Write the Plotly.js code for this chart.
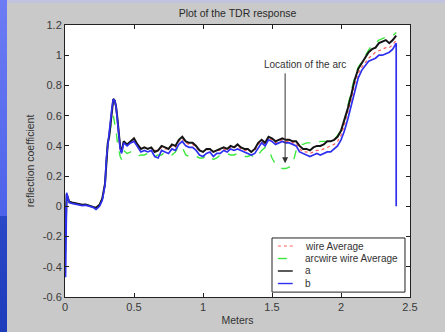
<!DOCTYPE html>
<html>
<head>
<meta charset="utf-8">
<script src="https://cdn.plot.ly/plotly-3.0.1.min.js"></script>
<style>
  html, body { margin: 0; padding: 0; }
  body { width: 445px; height: 332px; position: relative; overflow: hidden; background: #c9c9c9; }
  #bandTop { position: absolute; left: 0; top: 0; width: 445px; height: 3px; background: #c2c3df; }
  #stripHi { position: absolute; left: 0; top: 0; width: 7px; height: 216px; background: linear-gradient(#6c7cf4, #4c62ea); }
  #stripLo { position: absolute; left: 0; top: 216px; width: 7px; height: 116px; background: linear-gradient(#2848c8, #1c3cbc); }
  #chart { position: absolute; left: 7px; top: 0; width: 438px; height: 332px; }
</style>
</head>
<body>
<div id="bandTop"></div>
<div id="stripHi"></div>
<div id="stripLo"></div>
<div id="chart"></div>
<script>
// Distance along the line (m). The last entry repeats 2.4 so trace b can fall back to zero.
const meters = [
  0, 0.004, 0.008, 0.012, 0.02, 0.03, 0.05, 0.075, 0.1, 0.125, 0.15, 0.175, 0.2, 0.225, 0.25, 0.27,
  0.29, 0.30, 0.31, 0.32, 0.33, 0.34, 0.35, 0.36, 0.37, 0.38, 0.39, 0.40, 0.41, 0.425, 0.45, 0.475,
  0.5, 0.525, 0.55, 0.575, 0.6, 0.625, 0.65, 0.675, 0.7, 0.725, 0.75, 0.775, 0.8, 0.825, 0.85, 0.875, 0.9, 0.925, 0.95, 0.975,
  1.0, 1.025, 1.05, 1.075, 1.1, 1.125, 1.15, 1.175, 1.2, 1.225, 1.25, 1.275, 1.3, 1.325, 1.35, 1.375, 1.4, 1.425, 1.45, 1.475,
  1.5, 1.525, 1.55, 1.575, 1.6, 1.625, 1.65, 1.675, 1.7, 1.725, 1.75, 1.775, 1.8, 1.825, 1.85, 1.875, 1.9, 1.925, 1.95, 1.975,
  2.0, 2.025, 2.05, 2.075, 2.1, 2.125, 2.15, 2.175, 2.2, 2.225, 2.25, 2.275, 2.3, 2.325, 2.35, 2.375, 2.4,
  2.4
];

// wire Average
const wireAverage = [
  0, -0.25, -0.05, 0.08, 0.06, 0.03, 0.025, 0.02, 0.015, 0.01, 0.012, 0.005, 0.0, -0.01, 0.01, 0.05,
  0.15, 0.33, 0.42, 0.46, 0.55, 0.65, 0.71, 0.70, 0.66, 0.58, 0.46, 0.39, 0.36, 0.43, 0.40, 0.43,
  0.44, 0.40, 0.38, 0.39, 0.38, 0.39, 0.37, 0.37, 0.39, 0.38, 0.38, 0.40, 0.39, 0.43, 0.45, 0.42, 0.41, 0.41, 0.39, 0.37,
  0.36, 0.37, 0.38, 0.36, 0.37, 0.37, 0.38, 0.37, 0.39, 0.39, 0.40, 0.38, 0.37, 0.37, 0.36, 0.37, 0.41, 0.43, 0.41, 0.45,
  0.44, 0.42, 0.43, 0.44, 0.43, 0.43, 0.42, 0.42, 0.38, 0.36, 0.36, 0.35, 0.36, 0.37, 0.37, 0.38, 0.39, 0.40, 0.41, 0.43,
  0.47, 0.54, 0.62, 0.71, 0.81, 0.88, 0.92, 0.95, 0.98, 1.00, 1.02, 1.03, 1.04, 1.05, 1.05, 1.07, 1.10,
  null
];

// arcwire wire Average
const arcwireAverage = [
  0, -0.3, -0.05, 0.08, 0.06, 0.03, 0.025, 0.02, 0.015, 0.01, 0.012, 0.005, 0.0, -0.01, 0.01, 0.05,
  0.15, 0.33, 0.42, 0.46, 0.52, 0.58, 0.60, 0.56, 0.50, 0.42, 0.36, 0.33, 0.31, 0.37, 0.35, 0.36,
  0.35, 0.33, 0.34, 0.34, 0.35, 0.34, 0.33, 0.34, 0.34, 0.36, 0.35, 0.34, 0.36, 0.40, 0.39, 0.34, 0.33, 0.34, 0.33, 0.32,
  0.32, 0.34, 0.33, 0.31, 0.32, 0.34, 0.34, 0.35, 0.34, 0.34, 0.35, 0.34, 0.33, 0.33, 0.34, 0.32, 0.34, 0.37, 0.39, 0.38,
  0.32, 0.28, 0.26, 0.25, 0.25, 0.26, 0.28, 0.37, 0.41, 0.41, 0.42, 0.42, 0.42, 0.42, 0.43, 0.43, 0.43, 0.42, 0.44, 0.47,
  0.50, 0.57, 0.66, 0.76, 0.86, 0.92, 0.96, 1.00, 1.04, 1.07, 1.08, 1.10, 1.11, 1.12, 1.12, 1.13, 1.15,
  null
];

// a
const traceA = [
  0, -0.2, -0.05, 0.08, 0.06, 0.03, 0.025, 0.02, 0.015, 0.01, 0.012, 0.005, 0.0, -0.01, 0.01, 0.05,
  0.15, 0.33, 0.42, 0.46, 0.55, 0.65, 0.71, 0.70, 0.66, 0.58, 0.46, 0.39, 0.36, 0.43, 0.41, 0.43,
  0.45, 0.41, 0.38, 0.39, 0.38, 0.39, 0.36, 0.37, 0.40, 0.39, 0.38, 0.41, 0.40, 0.44, 0.46, 0.43, 0.42, 0.42, 0.40, 0.37,
  0.36, 0.38, 0.38, 0.36, 0.37, 0.38, 0.39, 0.38, 0.40, 0.39, 0.41, 0.39, 0.38, 0.38, 0.36, 0.38, 0.42, 0.44, 0.42, 0.46,
  0.45, 0.43, 0.44, 0.45, 0.44, 0.44, 0.43, 0.43, 0.40, 0.38, 0.38, 0.37, 0.39, 0.40, 0.40, 0.41, 0.43, 0.43, 0.44, 0.46,
  0.50, 0.57, 0.65, 0.74, 0.84, 0.91, 0.95, 0.98, 1.02, 1.04, 1.05, 1.08, 1.09, 1.10, 1.08, 1.10, 1.13,
  null
];

// b
const traceB = [
  0, -0.47, -0.2, 0.09, 0.06, 0.025, 0.02, 0.015, 0.01, 0.005, 0.008, 0.0, -0.005, -0.02, 0.0, 0.04,
  0.14, 0.32, 0.41, 0.46, 0.55, 0.65, 0.71, 0.70, 0.66, 0.58, 0.46, 0.38, 0.35, 0.42, 0.40, 0.42,
  0.43, 0.39, 0.36, 0.37, 0.36, 0.37, 0.33, 0.32, 0.37, 0.36, 0.35, 0.38, 0.37, 0.41, 0.43, 0.40, 0.39, 0.39, 0.37, 0.34,
  0.33, 0.35, 0.36, 0.33, 0.35, 0.35, 0.37, 0.36, 0.38, 0.37, 0.38, 0.37, 0.36, 0.35, 0.34, 0.35, 0.39, 0.42, 0.40, 0.44,
  0.43, 0.41, 0.42, 0.43, 0.42, 0.42, 0.41, 0.40, 0.36, 0.35, 0.34, 0.33, 0.34, 0.35, 0.34, 0.35, 0.36, 0.36, 0.38, 0.40,
  0.44, 0.50, 0.58, 0.67, 0.77, 0.85, 0.90, 0.93, 0.96, 0.97, 0.98, 1.00, 1.00, 1.01, 1.02, 1.04, 1.08,
  0
];

const seriesNames = ['wire Average', 'arcwire wire Average', 'a', 'b'];
const xTicks = [0, 0.5, 1, 1.5, 2, 2.5];
const xTickText = ['0', '0.5', '1', '1.5', '2', '2.5'];
const yTicks = [-0.6, -0.4, -0.2, 0, 0.2, 0.4, 0.6, 0.8, 1, 1.2];
const yTickText = ['-0.6', '-0.4', '-0.2', '0', '0.2', '0.4', '0.6', '0.8', '1', '1.2'];

// Arc marker: arrow from the label down to the dip in the arcwire trace
const arcLabel = 'Location of the arc';
const arcMeters = 1.595;
const arcTip = 0.285;
const arcTail = 0.89;
const arcLabelMeters = 1.74;
const arcLabelY = 0.94;

const FONT = 'Liberation Sans, Arial, sans-serif';

const lineStyles = [
  { color: '#ff5c5c', width: 1.2, dash: 'dot' },
  { color: '#3ce83c', width: 1.4, dash: 'dash' },
  { color: '#141414', width: 2 },
  { color: '#2f2ff0', width: 1.7 }
];
const seriesValues = [wireAverage, arcwireAverage, traceA, traceB];

const traces = seriesValues.map((vals, i) => ({
  x: meters, y: vals, name: seriesNames[i], mode: 'lines', line: lineStyles[i], showlegend: false
}));

// Compact boxed legend in the lower right corner (paper coordinates)
const legendBox = { x0: 0.600, x1: 0.9855, y0: 0.018, y1: 0.217 };
const legendRowY = [0.1875, 0.1415, 0.0956, 0.0496];
const legendSampleX = [0.617, 0.660];
const legendTextX = 0.690;

const shapes = [
  { type: 'rect', xref: 'paper', yref: 'paper', x0: legendBox.x0, x1: legendBox.x1, y0: legendBox.y0, y1: legendBox.y1,
    fillcolor: '#ffffff', line: { color: '#222', width: 1 }, layer: 'above' }
];
const legendAnnotations = [];
seriesNames.forEach((name, i) => {
  shapes.push({ type: 'line', xref: 'paper', yref: 'paper', x0: legendSampleX[0], x1: legendSampleX[1],
    y0: legendRowY[i], y1: legendRowY[i], line: Object.assign({}, lineStyles[i], { width: Math.min(lineStyles[i].width, 1.4) }),
    layer: 'above' });
  legendAnnotations.push({ xref: 'paper', yref: 'paper', x: legendTextX, y: legendRowY[i], xanchor: 'left', yanchor: 'middle',
    text: name, showarrow: false, font: { family: FONT, size: 10, color: '#333' } });
});

const axisCommon = {
  showline: true, linecolor: '#222', linewidth: 1, mirror: 'ticks',
  ticks: 'inside', ticklen: 4, tickcolor: '#222', tickwidth: 1,
  showgrid: false, zeroline: false, tickmode: 'array',
  tickfont: { family: FONT, size: 11, color: '#3a3a3a' }
};

const layout = {
  width: 438, height: 332,
  margin: { l: 58, r: 35, t: 25, b: 35 },
  paper_bgcolor: 'rgba(0,0,0,0)',
  plot_bgcolor: '#ffffff',
  font: { family: FONT, color: '#333' },
  showlegend: false,
  title: { text: 'Plot of the TDR response', font: { family: FONT, size: 10.5, color: '#2a2a2a' },
           x: 0.5, xref: 'paper', y: 1 - 13 / 332, yanchor: 'middle' },
  xaxis: Object.assign({}, axisCommon, {
    range: [0, 2.5], tickvals: xTicks, ticktext: xTickText,
    title: { text: 'Meters', font: { family: FONT, size: 10.5, color: '#333' }, standoff: 4 }
  }),
  yaxis: Object.assign({}, axisCommon, {
    range: [-0.6, 1.2], tickvals: yTicks, ticktext: yTickText,
    title: { text: 'reflection coefficient', font: { family: FONT, size: 10.5, color: '#333' }, standoff: 6 }
  }),
  shapes: shapes,
  annotations: [
    { x: arcMeters, y: arcTip, xref: 'x', yref: 'y', ax: arcMeters, ay: arcTail, axref: 'x', ayref: 'y',
      text: '', showarrow: true, arrowhead: 2, arrowsize: 1.2, arrowwidth: 1, arrowcolor: '#333' },
    { x: arcLabelMeters, y: arcLabelY, xref: 'x', yref: 'y', text: arcLabel, showarrow: false,
      font: { family: FONT, size: 10, color: '#333' } }
  ].concat(legendAnnotations)
};

Plotly.newPlot('chart', traces, layout, { displayModeBar: false, staticPlot: true });
</script>
</body>
</html>
